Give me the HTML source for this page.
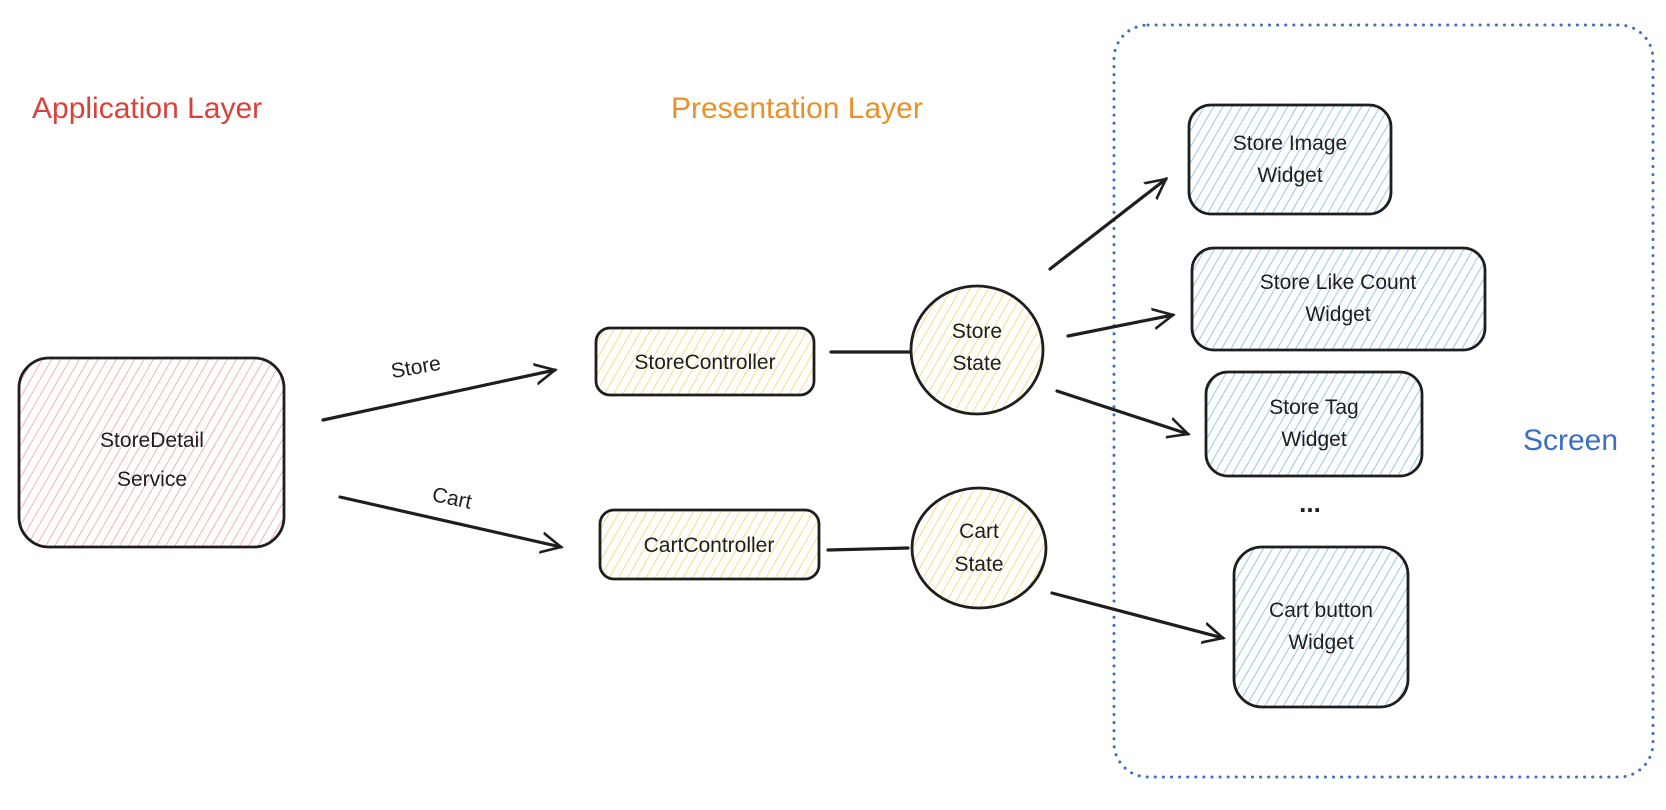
<!DOCTYPE html>
<html><head><meta charset="utf-8"><style>
html,body{margin:0;padding:0;background:#fff;}
svg{display:block;}
text{font-family:"Liberation Sans","DejaVu Sans",sans-serif;}
</style></head><body>
<svg width="1666" height="810" viewBox="0 0 1666 810" xmlns="http://www.w3.org/2000/svg">
<defs>
<pattern id="hp" width="8" height="8" patternUnits="userSpaceOnUse" patternTransform="rotate(30)"><line x1="0" y1="0" x2="0" y2="8" stroke="#f0a0a0" stroke-width="1.6"/></pattern>
<pattern id="hy" width="8" height="8" patternUnits="userSpaceOnUse" patternTransform="rotate(30)"><line x1="0" y1="0" x2="0" y2="8" stroke="#f3d66a" stroke-width="1.6"/></pattern>
<pattern id="hb" width="8" height="8" patternUnits="userSpaceOnUse" patternTransform="rotate(30)"><line x1="0" y1="0" x2="0" y2="8" stroke="#7fb8ec" stroke-width="1.6"/></pattern>
<marker id="ar" markerWidth="24" markerHeight="24" refX="20" refY="12" orient="auto" markerUnits="userSpaceOnUse"><path d="M0,2 L20,12 L0,22" fill="none" stroke="#1e1e1e" stroke-width="2.6" stroke-linecap="round"/></marker>
</defs>

<text x="32" y="118" font-size="30" fill="#d9413b">Application Layer</text>
<text x="671" y="118" font-size="30" fill="#e8902a">Presentation Layer</text>

<rect x="1114" y="25" width="539" height="752" rx="34" fill="none" stroke="#3b6fc4" stroke-width="3" stroke-dasharray="0.1 8" stroke-linecap="round"/>
<text x="1523" y="450" font-size="30" fill="#3b6fc4">Screen</text>

<g stroke="#1e1e1e" stroke-width="2.8">
<rect x="19" y="358" width="265" height="189" rx="30" fill="url(#hp)"/>
<rect x="596" y="328" width="218" height="67" rx="14" fill="url(#hy)"/>
<rect x="600" y="510" width="219" height="69" rx="14" fill="url(#hy)"/>
<ellipse cx="977" cy="350" rx="66" ry="64" fill="url(#hy)"/>
<ellipse cx="979" cy="548" rx="67" ry="60" fill="url(#hy)"/>
<rect x="1189" y="105" width="202" height="109" rx="22" fill="url(#hb)"/>
<rect x="1192" y="248" width="293" height="102" rx="22" fill="url(#hb)"/>
<rect x="1206" y="372" width="216" height="104" rx="22" fill="url(#hb)"/>
<rect x="1234" y="547" width="174" height="160" rx="28" fill="url(#hb)"/>
</g>

<g stroke="#1e1e1e" stroke-width="3.2" fill="none" stroke-linecap="round">
<line x1="323" y1="420" x2="555" y2="370" marker-end="url(#ar)"/>
<line x1="340" y1="497" x2="561" y2="547" marker-end="url(#ar)"/>
<line x1="831" y1="352" x2="910" y2="352"/>
<line x1="828" y1="550" x2="908" y2="548"/>
<line x1="1050" y1="269" x2="1166" y2="179" marker-end="url(#ar)"/>
<line x1="1068" y1="336" x2="1173" y2="315" marker-end="url(#ar)"/>
<line x1="1057" y1="391" x2="1188" y2="434" marker-end="url(#ar)"/>
<line x1="1052" y1="593" x2="1223" y2="638" marker-end="url(#ar)"/>
</g>

<g font-size="21" fill="#1e1e1e" text-anchor="middle">
<text x="416" y="374" transform="rotate(-10 416 368)">Store</text>
<text x="452" y="505" transform="rotate(12 452 498)">Cart</text>
<text x="152" y="447">StoreDetail</text>
<text x="152" y="486">Service</text>
<text x="705" y="369">StoreController</text>
<text x="709" y="552">CartController</text>
<text x="977" y="338">Store</text>
<text x="977" y="370">State</text>
<text x="979" y="538">Cart</text>
<text x="979" y="571">State</text>
<text x="1290" y="150">Store Image</text>
<text x="1290" y="182">Widget</text>
<text x="1338" y="289">Store Like Count</text>
<text x="1338" y="321">Widget</text>
<text x="1314" y="414">Store Tag</text>
<text x="1314" y="446">Widget</text>
<text x="1310" y="512" font-size="26" font-weight="bold">...</text>
<text x="1321" y="617">Cart button</text>
<text x="1321" y="649">Widget</text>
</g>
</svg>
</body></html>
